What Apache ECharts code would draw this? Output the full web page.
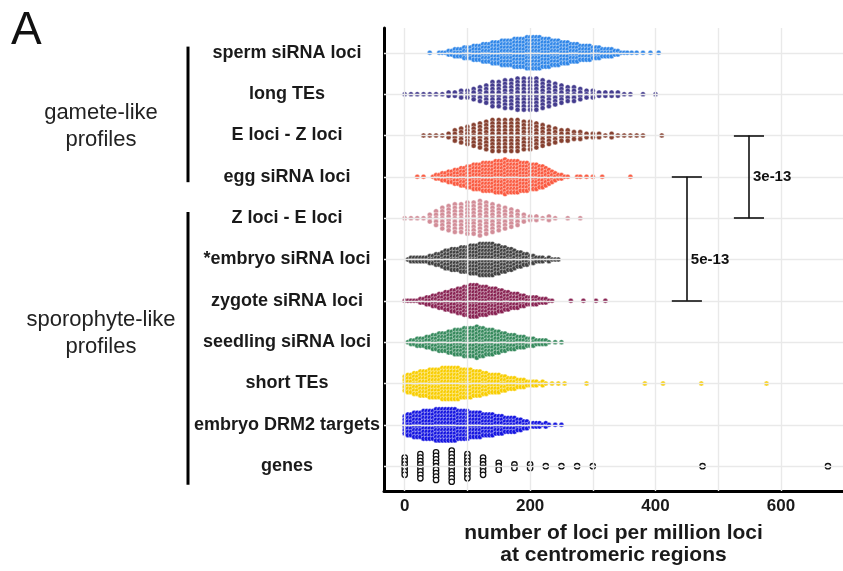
<!DOCTYPE html>
<html>
<head>
<meta charset="utf-8">
<script src="https://cdn.jsdelivr.net/npm/echarts@6/dist/echarts.min.js"></script>
<style>
  html, body { margin: 0; padding: 0; background: #ffffff; }
  #chart { width: 843px; height: 571px; }
</style>
</head>
<body>
<div id="chart"></div>
<script>
// Rows, top to bottom
const categories = [
  'sperm siRNA loci', 'long TEs', 'E loci - Z loci', 'egg siRNA loci',
  'Z loci - E loci', '*embryo siRNA loci', 'zygote siRNA loci',
  'seedling siRNA loci', 'short TEs', 'embryo DRM2 targets', 'genes'
];
const colors = [
  '#2f86e8', '#443c8e', '#86402f', '#fa5a40', '#d28d98', '#404040',
  '#882252', '#35895c', '#f8cd00', '#1414e0', '#000000'
];

// Dot histograms: value of the first bin, bin width, number of loci sets per bin
const binStart = [40, 0, 30, 20, 0, 5, 0, 5, 0, 0, 0];
const binWidth = [5, 10, 10, 5, 10, 5, 5, 5, 5, 5, 25];

const spermCounts = [1,0,0,1,1,1,2,2,3,3, 3,4,4,4,5,5,5,6,6,6, 7,7,7,8,8,8,8,9,9,9,
  9,10,10,10,10,10,9,9,9,8, 8,8,7,7,7,6,6,6,5,5, 5,5,4,4,4,3,3,3,3,2, 2,1];
const longTeCounts = [1,1,1,1,1,1,1,2,2,3, 3,4,5,6,8,8,9,9,10,10, 10,10,9,8,7,6,5,5,4,3,
  3,2,2,2,2,1,1,0,1,0, 1];
const eMinusZCounts = [1,1,1,1,2,4,5,6,7,8, 9,10,10,10,10,10,9,9,8,7, 6,5,4,4,3,3,2,2,2,1,
  2,1,1,1,1,1,0,0,1];
const eggCounts = [1,0,1,0,0,1,2,2,3,3, 4,4,5,5,6,6,7,7,8,8, 8,9,9,9,9,10,10,10,11,10,
  10,10,10,9,9,9,8,8,8,7, 7,6,5,4,3,2,2,1,1,0, 0,1,1,0,1,0,1,0,0,1, 0,0,0,0,0,0,0,0,1];
const zMinusECounts = [1,1,1,1,3,5,7,8,9,9, 10,10,11,10,9,8,7,6,5,3, 2,2,1,2,1,0,1,0,1];
const embryoCounts = [1,2,2,2,2,2,2,3,3,4, 4,5,6,6,7,7,7,8,8,8, 9,9,9,10,10,10,10,10,9,9,
  8,8,7,7,6,5,5,4,4,3, 3,2,2,2,1,2,1,1,1];
const zygoteCounts = [1,1,1,1,1,2,2,3,3,4, 4,5,5,6,6,7,7,8,8,9, 9,10,10,10,9,9,9,8,8,8,
  7,7,6,6,5,5,5,4,4,3, 3,3,3,2,2,2,1,1,0,0, 0,0,0,1,0,0,0,1,0,0, 0,1,0,0,1];
const seedlingCounts = [1,2,2,3,3,3,4,4,5,5, 6,6,6,7,7,8,8,8,9,9, 9,9,10,9,9,8,8,8,7,7,
  6,6,5,5,5,4,4,4,3,3, 3,2,2,2,2,1,0,1,0,1];
const shortTeCounts = [5,6,6,7,7,8,8,8,9,9, 9,9,10,10,10,10,10,10,9,9, 9,9,8,8,8,7,7,6,6,6,
  6,5,5,4,4,4,3,3,3,2, 2,2,2,1,2,1];
const drm2Counts = [6,7,7,8,8,8,9,9,9,9, 10,10,10,10,10,10,10,9,9,9, 9,8,8,8,8,7,7,7,7,6,
  6,6,5,5,5,5,4,4,3,3, 2,2,2,2,1,2,1];
const geneCounts = [6,8,9,10,8,6,3,2,2,1,1,1,1];

// Isolated high values beyond the histogram bins
const spermLone = [350, 355, 362, 370, 380, 392, 405];
const shortTeLone = [235, 245, 255, 290, 383, 412, 473, 577];
const drm2Lone = [240, 250];
const geneLone = [475, 675];

const counts = [spermCounts, longTeCounts, eMinusZCounts, eggCounts, zMinusECounts,
  embryoCounts, zygoteCounts, seedlingCounts, shortTeCounts, drm2Counts, geneCounts];
const loneValues = [spermLone, [], [], [], [], [], [], [], shortTeLone, drm2Lone, geneLone];

// Axis ticks and reference lines
const xTickValues = [0, 200, 400, 600];
const xGridValues = [0, 100, 200, 300, 400, 500, 600];

// Significance brackets (x position, first row, last row, label row, label)
const bracketX = [549, 450];
const bracketFrom = [2, 3];
const bracketTo = [4, 6];
const bracketLabelRow = [3, 5];
const bracketText = ['3e-13', '5e-13'];

// Row groups drawn left of the labels
const groupText = ['gamete-like\nprofiles', 'sporophyte-like\nprofiles'];
const groupBarFrom = [-0.15, 3.85];
const groupBarTo = [3.13, 10.45];
const groupTextRow = [1.78, 6.8];

const FONT = '"Liberation Sans", Arial, Helvetica, sans-serif';
const DOT_STEP = 0.0836; // vertical dot spacing, in row units

// Stack each bin's dots symmetrically about its row
function swarm(row) {
  const pts = [];
  const c = counts[row];
  for (let i = 0; i < c.length; i++) {
    const v = binStart[row] + i * binWidth[row];
    for (let j = 0; j < c[i]; j++) {
      pts.push([v, row + (j - (c[i] - 1) / 2) * DOT_STEP]);
    }
  }
  loneValues[row].forEach(v => pts.push([v, row]));
  return pts;
}

const rows = categories.map((_, i) => i);

const series = [];

// light reference grid
series.push({
  type: 'scatter',
  data: [],
  z: 1,
  silent: true,
  markLine: {
    silent: true,
    symbol: ['none', 'none'],
    animation: false,
    label: { show: false },
    lineStyle: { color: '#e9e9e9', width: 1.4, type: 'solid', opacity: 1 },
    emphasis: { disabled: true },
    data: xGridValues.map(v => ({ xAxis: v })).concat(rows.map(r => ({ yAxis: r })))
  }
});

rows.forEach(r => {
  const isGenes = r === rows.length - 1;
  series.push({
    type: 'scatter',
    name: categories[r],
    data: swarm(r),
    z: 3,
    symbol: 'circle',
    symbolSize: isGenes ? 5.4 : 5,
    silent: true,
    itemStyle: isGenes
      ? { color: '#ffffff', borderColor: '#111111', borderWidth: 1.3, opacity: 1 }
      : { color: colors[r], borderColor: 'rgba(255,255,255,0.6)', borderWidth: 0.7, opacity: 1 }
  });
});

// significance brackets
const bracketLines = [];
const CAP = 24;
bracketX.forEach((x, k) => {
  const a = bracketFrom[k], b = bracketTo[k];
  bracketLines.push([{ coord: [x, a] }, { coord: [x, b] }]);
  bracketLines.push([{ coord: [x - CAP, a] }, { coord: [x + CAP, a] }]);
  bracketLines.push([{ coord: [x - CAP, b] }, { coord: [x + CAP, b] }]);
});
series.push({
  type: 'scatter',
  z: 5,
  silent: true,
  symbolSize: 0,
  itemStyle: { opacity: 1 },
  data: bracketX.map((x, k) => [x, bracketLabelRow[k]]),
  label: {
    show: true,
    position: 'right',
    distance: 4,
    formatter: p => bracketText[p.dataIndex],
    fontFamily: FONT,
    fontWeight: 'bold',
    fontSize: 15,
    color: '#111111'
  },
  markLine: {
    silent: true,
    symbol: ['none', 'none'],
    animation: false,
    label: { show: false },
    lineStyle: { color: '#111111', width: 1.6, type: 'solid', opacity: 1 },
    data: bracketLines
  }
});

const chart = echarts.init(document.getElementById('chart'), null, { renderer: 'canvas' });

chart.setOption({
  animation: false,
  backgroundColor: '#ffffff',
  grid: { left: 384, right: 0, top: 28, bottom: 74, containLabel: false },
  xAxis: {
    type: 'value',
    min: -33,
    max: 699,
    axisLine: { show: true, onZero: false, lineStyle: { color: '#000000', width: 3 } },
    axisTick: { show: false },
    splitLine: { show: false },
    axisLabel: {
      customValues: xTickValues,
      margin: 7,
      fontFamily: FONT,
      fontWeight: 'bold',
      fontSize: 17,
      color: '#1a1a1a'
    },
    name: 'number of loci per million loci\nat centromeric regions',
    nameLocation: 'middle',
    nameGap: 31,
    nameTextStyle: {
      fontFamily: FONT,
      fontWeight: 'bold',
      fontSize: 21,
      lineHeight: 22,
      color: '#1a1a1a',
      verticalAlign: 'top'
    }
  },
  yAxis: {
    type: 'value',
    inverse: true,
    min: -0.6,
    max: 10.6,
    axisLine: { show: true, onZero: false, lineStyle: { color: '#000000', width: 3 } },
    axisTick: { show: false },
    splitLine: { show: false },
    axisLabel: {
      customValues: rows,
      formatter: v => categories[Math.round(v)] || '',
      margin: 97,
      align: 'center',
      fontFamily: FONT,
      fontWeight: 'bold',
      fontSize: 18,
      color: '#1a1a1a'
    }
  },
  series: series
});

// Panel letter and row-group annotations, positioned from the y axis scale
const graphics = [{
  type: 'text',
  left: 11,
  top: 8,
  style: { text: 'A', font: '46px ' + FONT, fill: '#111111' }
}];
groupText.forEach((t, k) => {
  const y1 = chart.convertToPixel({ yAxisIndex: 0 }, groupBarFrom[k]);
  const y2 = chart.convertToPixel({ yAxisIndex: 0 }, groupBarTo[k]);
  const ty = chart.convertToPixel({ yAxisIndex: 0 }, groupTextRow[k]);
  graphics.push({
    type: 'line',
    shape: { x1: 188, y1: y1, x2: 188, y2: y2 },
    style: { stroke: '#000000', lineWidth: 3 }
  });
  graphics.push({
    type: 'text',
    x: 101,
    y: ty,
    style: {
      text: t,
      font: '22px ' + FONT,
      fill: '#222222',
      align: 'center',
      verticalAlign: 'middle',
      lineHeight: 27
    }
  });
});
chart.setOption({ graphic: graphics });
</script>
</body>
</html>
